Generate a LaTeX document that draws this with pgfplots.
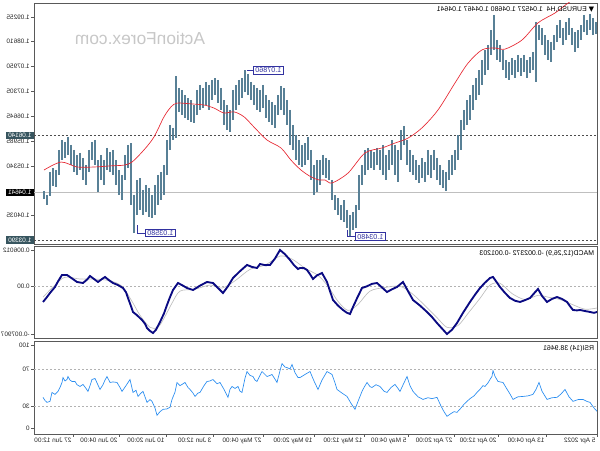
\documentclass[border=0pt]{standalone}
\usepackage{pgfplots}
\pgfplotsset{compat=1.18}
\usepackage{pgfplotstable}
\usepackage{graphicx}
\usepackage{fontspec}
\setmainfont{Liberation Sans}
\newfontfamily\symfont{DejaVu Sans}
\definecolor{barcol}{RGB}{88,128,150}
\definecolor{macol}{RGB}{230,40,50}
\definecolor{macdcol}{RGB}{10,10,130}
\definecolor{sigcol}{RGB}{190,190,190}
\definecolor{rsicol}{RGB}{40,140,240}
\definecolor{hlcol}{RGB}{55,85,95}
\definecolor{anncol}{RGB}{50,50,160}
\newcommand{\rb}[1]{\reflectbox{#1}}
\newcommand{\tf}{\fontsize{4.8}{5.5}\selectfont}
\newcommand{\af}{\fontsize{5.4}{6}\selectfont}

\pgfplotstableread{
x h l
44 1.0468 1.0447
47 1.0457 1.0431
50 1.0518 1.0455
53 1.0528 1.0481
56 1.0523 1.0478
59 1.0576 1.0510
62 1.0602 1.0549
65 1.0597 1.0555
68 1.0610 1.0563
71 1.0589 1.0536
74 1.0576 1.0518
77 1.0563 1.0510
80 1.0568 1.0523
83 1.0555 1.0497
86 1.0536 1.0484
89 1.0576 1.0518
92 1.0597 1.0549
95 1.0602 1.0536
98 1.0549 1.0465
101 1.0563 1.0497
104 1.0549 1.0484
107 1.0581 1.0523
110 1.0570 1.0518
113 1.0576 1.0510
116 1.0549 1.0484
119 1.0523 1.0457
122 1.0510 1.0444
125 1.0563 1.0497
128 1.0589 1.0528
131 1.0594 1.0431
134 1.0457 1.0358
137 1.0497 1.0405
140 1.0502 1.0418
143 1.0470 1.0405
146 1.0484 1.0413
149 1.0476 1.0400
152 1.0457 1.0397
155 1.0484 1.0405
158 1.0510 1.0431
161 1.0518 1.0444
164 1.0536 1.0457
167 1.0602 1.0510
170 1.0642 1.0576
173 1.0634 1.0602
176 1.0770 1.0607
179 1.0739 1.0676
182 1.0734 1.0668
185 1.0720 1.0660
188 1.0712 1.0655
191 1.0707 1.0649
194 1.0694 1.0647
197 1.0734 1.0668
200 1.0747 1.0681
203 1.0739 1.0686
206 1.0755 1.0694
209 1.0747 1.0681
212 1.0760 1.0707
215 1.0765 1.0720
218 1.0760 1.0699
221 1.0739 1.0681
224 1.0707 1.0642
227 1.0694 1.0628
230 1.0681 1.0623
233 1.0734 1.0655
236 1.0747 1.0681
239 1.0760 1.0694
242 1.0765 1.0712
245 1.0786 1.0728
248 1.0776 1.0720
251 1.0755 1.0707
254 1.0747 1.0694
257 1.0739 1.0681
260 1.0734 1.0676
263 1.0747 1.0686
266 1.0720 1.0660
269 1.0707 1.0649
272 1.0702 1.0642
275 1.0694 1.0634
278 1.0720 1.0668
281 1.0744 1.0681
284 1.0739 1.0668
287 1.0707 1.0642
290 1.0681 1.0589
293 1.0642 1.0576
296 1.0615 1.0549
299 1.0602 1.0536
302 1.0589 1.0531
305 1.0594 1.0536
308 1.0610 1.0549
311 1.0576 1.0497
314 1.0536 1.0457
317 1.0549 1.0465
320 1.0549 1.0484
323 1.0563 1.0510
326 1.0555 1.0502
329 1.0549 1.0497
332 1.0497 1.0444
335 1.0457 1.0418
338 1.0449 1.0405
341 1.0431 1.0392
344 1.0444 1.0387
347 1.0418 1.0371
350 1.0405 1.0348
353 1.0413 1.0365
356 1.0431 1.0371
359 1.0510 1.0418
362 1.0536 1.0484
365 1.0576 1.0510
368 1.0581 1.0523
371 1.0576 1.0528
374 1.0570 1.0523
377 1.0581 1.0536
380 1.0576 1.0523
383 1.0589 1.0510
386 1.0563 1.0497
389 1.0576 1.0523
392 1.0602 1.0536
395 1.0589 1.0510
398 1.0576 1.0492
401 1.0628 1.0549
404 1.0639 1.0589
407 1.0602 1.0536
410 1.0576 1.0518
413 1.0563 1.0510
416 1.0549 1.0497
419 1.0536 1.0489
422 1.0555 1.0502
425 1.0544 1.0492
428 1.0576 1.0510
431 1.0563 1.0502
434 1.0576 1.0523
437 1.0555 1.0497
440 1.0536 1.0484
443 1.0523 1.0476
446 1.0518 1.0468
449 1.0549 1.0497
452 1.0563 1.0510
455 1.0576 1.0523
458 1.0615 1.0549
461 1.0655 1.0576
464 1.0681 1.0628
467 1.0707 1.0642
470 1.0720 1.0655
473 1.0747 1.0681
476 1.0765 1.0707
479 1.0786 1.0720
482 1.0812 1.0747
485 1.0839 1.0773
488 1.0852 1.0786
491 1.0891 1.0826
494 1.0931 1.0839
497 1.0865 1.0812
500 1.0852 1.0807
503 1.0839 1.0786
506 1.0812 1.0765
509 1.0807 1.0760
512 1.0818 1.0773
515 1.0812 1.0765
518 1.0826 1.0781
521 1.0818 1.0770
524 1.0826 1.0781
527 1.0812 1.0765
530 1.0820 1.0778
533 1.0834 1.0786
536 1.0912 1.0755
539 1.0904 1.0865
542 1.0897 1.0852
545 1.0878 1.0826
548 1.0865 1.0812
551 1.0860 1.0807
554 1.0878 1.0839
557 1.0904 1.0860
560 1.0918 1.0870
563 1.0897 1.0852
566 1.0912 1.0865
569 1.0923 1.0878
572 1.0897 1.0852
575 1.0886 1.0834
578 1.0891 1.0844
581 1.0904 1.0865
584 1.0931 1.0886
587 1.0918 1.0878
590 1.0934 1.0891
593 1.0923 1.0878
596 1.0912 1.0881
}\bars

\pgfplotstableread{
x ma
44 1.0523
61 1.0544
77 1.0531
94 1.0531
111 1.0534
124 1.0536
132 1.0544
144 1.0576
154 1.0610
164 1.0663
171 1.0689
177 1.0699
191 1.0697
204 1.0694
214 1.0686
224 1.0673
234 1.0676
244 1.0663
254 1.0636
267 1.0602
281 1.0581
291 1.0549
301 1.0523
311 1.0505
319 1.0497
325 1.0497
332 1.0489
348 1.0515
365 1.0568
382 1.0581
395 1.0594
408 1.0607
422 1.0634
438 1.0681
455 1.0752
468 1.0804
482 1.0839
495 1.0844
505 1.0841
522 1.0865
538 1.0910
555 1.0936
568 1.0962
585 1.0991
}\matab

\pgfplotstableread{
x m
43 -0.00260
46 -0.00200
50 -0.00111
55 -0.00012
58 0.00080
62 0.00187
67 0.00187
72 0.00130
77 0.00071
83 0.00054
87 0.00110
90 0.00170
94 0.00120
98 0.00071
102 0.00120
105 0.00154
109 0.00100
113 0.00054
118 0.00020
123 -0.00029
126 -0.00100
128 -0.00194
131 -0.00330
133 -0.00426
137 -0.00480
142 -0.00559
145 -0.00620
147 -0.00691
150 -0.00740
153 -0.00774
156 -0.00720
160 -0.00592
164 -0.00450
167 -0.00310
170 -0.00180
173 -0.00062
178 0.00054
183 0.00010
187 -0.00029
193 -0.00062
200 0.00010
207 0.00071
213 0.00054
218 -0.00030
223 -0.00111
228 0.00000
233 0.00137
240 0.00250
247 0.00353
252 0.00320
257 0.00303
260 0.00369
265 0.00350
270 0.00353
275 0.00460
280 0.00601
285 0.00530
290 0.00436
294 0.00350
298 0.00286
300 0.00303
304 0.00300
307 0.00270
310 0.00200
313 0.00121
317 0.00180
322 0.00220
327 0.00071
330 -0.00080
333 -0.00227
338 -0.00320
343 -0.00393
347 -0.00440
350 -0.00459
353 -0.00343
357 -0.00200
362 -0.00029
367 0.00000
372 0.00040
377 0.00054
382 -0.00020
387 -0.00095
392 -0.00050
397 -0.00012
403 0.00071
408 -0.00080
413 -0.00227
420 -0.00320
427 -0.00426
432 -0.00510
437 -0.00609
442 -0.00700
447 -0.00791
452 -0.00720
457 -0.00609
463 -0.00440
470 -0.00260
475 -0.00140
480 -0.00029
485 0.00060
490 0.00137
493 0.00154
497 0.00060
500 -0.00012
505 -0.00110
510 -0.00194
515 -0.00240
520 -0.00260
525 -0.00230
530 -0.00194
535 -0.00100
538 -0.00045
542 -0.00160
547 -0.00260
552 -0.00210
557 -0.00178
562 -0.00210
567 -0.00260
570 -0.00330
573 -0.00393
577 -0.00400
580 -0.00393
585 -0.00410
590 -0.00426
594 -0.00440
597 -0.00426
}\macdtab

\pgfplotstableread{
x s
43 -0.0018
55 0.0002
65 0.0015
80 0.0012
95 0.0012
110 0.0009
122 0.0000
132 -0.0025
140 -0.0048
150 -0.0068
158 -0.0068
165 -0.0050
172 -0.0028
180 -0.0008
195 -0.0005
210 0.0002
222 -0.0003
235 0.0009
250 0.0028
265 0.0035
280 0.0050
292 0.0045
305 0.0030
318 0.0018
328 0.0000
338 -0.0025
348 -0.0040
358 -0.0030
370 -0.0008
385 -0.0002
400 0.0000
412 -0.0012
425 -0.0032
437 -0.0052
447 -0.0068
458 -0.0065
468 -0.0045
480 -0.0020
490 0.0002
500 0.0005
512 -0.0012
525 -0.0022
538 -0.0015
548 -0.0018
560 -0.0022
572 -0.0030
585 -0.0038
597 -0.0036
}\sigtab

\pgfplotstableread{
x r
43 39.4
45 36
47 34.0
50 35.1
52 44.7
55 42.6
58 45.8
60 50
62 55.4
63 60.7
65 57
67 58.6
68 61.8
70 58
72 56.5
75 56.5
77 53
80 51.1
83 53.3
86 49
88 45.8
90 52
92 58.6
95 59.7
97 55
100 47.9
103 53
105 58
107 61.8
110 55.4
113 56
117 55.4
120 50
122 45.8
126 52
130 58.6
133 44.7
136 47
138 40.4
141 44
143 45.8
145 40
147 34.0
150 37
152 35.1
155 28
157 20.1
160 24
163 26.5
167 27
170 28.7
172 37.2
175 45
177 55.4
180 52
182 53.3
185 55.4
188 50
190 47.9
193 44
195 40.4
198 44
200 44.7
204 52
207 56.5
210 57
213 58.6
217 54
220 55.4
224 48
228 39.4
230 48
232 51.1
235 49
238 51.1
240 46
242 44.7
245 60
247 67.2
250 63
253 61.8
255 58
257 56.5
260 63
262 67.2
265 64
267 61.8
270 63
272 64.0
275 59
277 55.4
280 68
282 75.7
285 72
287 71.4
290 70
292 74.7
295 66
298 60.7
300 60.7
305 64
310 67.2
314 57
318 47.9
322 58
327 67.2
332 64.0
335 55
337 47.9
342 44
347 40.4
351 33
355 26.5
358 35
362 45.8
364 50
367 55.4
370 51
372 50
376 53
380 51.1
384 46
387 44.7
391 50
395 53.3
398 49
400 45.8
404 55
407 61.8
410 52
413 45.8
418 40
423 37.2
428 39
432 38
437 39.4
441 30
444 24
447 19.0
451 22
454 24
457 23.3
461 28
464 32
467 35.1
470 38
474 41
477 44.7
480 48
483 52
485 51.1
488 55
490 58.6
492 62
493 68.2
495 62
498 56.5
503 55.4
506 50
510 43
513 37.2
518 40
523 40.4
528 41
533 42.6
536 48
539 55.4
542 46
547 37.2
552 39
557 39.4
561 43
565 47.9
569 40
573 35.1
578 37
583 37.2
587 35
590 34.0
594 28
597 24.4
}\rsitab

\pgfplotsset{mt4/.style={
  scale only axis, width=422.25pt, xmin=34, xmax=597, anchor=south west,
  axis line style={draw=black!65, line width=0.6pt},
  tick style={draw=black!65, line width=0.4pt},
  tick align=outside, major tick length=2pt,
  ticklabel style={font=\tf, text=black!85},
  yticklabel style={anchor=east, inner sep=1pt},
  ytick pos=left, xtick pos=bottom,
  scaled y ticks=false, clip mode=individual,
}}

\begin{document}
\begin{tikzpicture}
\useasboundingbox (0,0) rectangle (450pt,337.5pt);

% ---------- main price panel ----------
\begin{axis}[mt4, at={(25.5pt,154.5pt)}, height=180.75pt,
  ymin=1.03285, ymax=1.09623, xtick=\empty,
  ytick={1.04035,1.05340,1.05985,1.06645,1.07305,1.07950,1.08610,1.09255},
  yticklabels={\rb{1.04035},\rb{1.05340},\rb{1.05985},\rb{1.06645},\rb{1.07305},\rb{1.07950},\rb{1.08610},\rb{1.09255}}]
\node[font=\fontsize{13}{14}\selectfont, text=black!22] at (axis cs:140,1.0870) {\rb{ActionForex.com}};
\addplot[black!25, line width=1.1pt] coordinates {(34,1.04641) (597,1.04641)};
\addplot[black!70, line width=0.5pt, dash pattern=on 1.5pt off 1.5pt] coordinates {(34,1.06140) (597,1.06140)};
\addplot[black!70, line width=0.5pt, dash pattern=on 1.5pt off 1.5pt] coordinates {(34,1.03390) (597,1.03390)};
\addplot[draw=none, no markers,
  error bars/.cd, y dir=minus, y explicit, error mark=none,
  error bar style={draw=barcol, solid, line width=1.05pt}]
  table[x=x, y=h, y error expr=\thisrow{h}-\thisrow{l}] {\bars};
\addplot[macol, line width=0.5pt, smooth] table[x=x, y=ma] {\matab};
% price labels on the scale
\node[fill=hlcol, text=white, anchor=east, inner xsep=1.8pt, inner ysep=1pt, font=\tf] at (axis cs:34,1.06140) {\rb{1.06140}};
\node[fill=black, text=white, anchor=east, inner xsep=1.8pt, inner ysep=1pt, font=\tf] at (axis cs:34,1.04641) {\rb{1.04641}};
\node[fill=hlcol, text=white, anchor=east, inner xsep=1.8pt, inner ysep=1pt, font=\tf] at (axis cs:34,1.03390) {\rb{1.03390}};
% high / low annotations
\draw[anncol, line width=0.4pt] (axis cs:247,1.0786) -- (axis cs:253,1.0786);
\node[draw=anncol, fill=white, text=anncol, anchor=west, inner xsep=1.5pt, inner ysep=1pt, font=\af] at (axis cs:253,1.0786) {\rb{1.07860}};
\draw[anncol, line width=0.4pt] (axis cs:137,1.0378) -- (axis cs:137,1.0358) -- (axis cs:145,1.0358);
\node[draw=anncol, fill=white, text=anncol, anchor=west, inner xsep=1.5pt, inner ysep=1pt, font=\af] at (axis cs:145,1.0358) {\rb{1.03580}};
\draw[anncol, line width=0.4pt] (axis cs:347,1.0366) -- (axis cs:347,1.0348) -- (axis cs:355,1.0348);
\node[draw=anncol, fill=white, text=anncol, anchor=west, inner xsep=1.5pt, inner ysep=1pt, font=\af] at (axis cs:355,1.0348) {\rb{1.03480}};
\node[anchor=north east, inner sep=0pt, font=\fontsize{5.2}{6}\selectfont] at ([xshift=-2pt,yshift=-2.5pt]rel axis cs:1,1)
  {\rb{{\symfont ▼} EURUSD,H4\ \ 1.04527 1.04680 1.04467 1.04641}};
\end{axis}

% ---------- MACD panel ----------
\begin{axis}[mt4, at={(25.5pt,84pt)}, height=69pt,
  ymin=-0.00857, ymax=0.00667, xtick=\empty,
  ytick={-0.007907,0,0.006012},
  yticklabels={\rb{-0.007907},\rb{0.00},\rb{0.006012}}]
\addplot[black!30, line width=0.4pt, dash pattern=on 1.5pt off 1.5pt] coordinates {(34,0) (597,0)};
\addplot[sigcol, line width=0.5pt, smooth] table[x=x, y=s] {\sigtab};
\addplot[macdcol, line width=1.4pt] table[x=x, y=m] {\macdtab};
\node[anchor=north east, inner sep=0pt, font=\fontsize{5.2}{6}\selectfont] at ([xshift=-2pt,yshift=-3pt]rel axis cs:1,1)
  {\rb{MACD(12,26,9) -0.002372 -0.001203}};
\end{axis}

% ---------- RSI panel ----------
\begin{axis}[mt4, at={(25.5pt,12pt)}, height=69.75pt,
  ymin=0, ymax=100,
  ytick={30,70}, yticklabels={\rb{30},\rb{70}},
  extra y ticks={6,95}, extra y tick labels={\rb{0},\rb{100}},
  xtick={73,119,166,213,263,314,364,408,454,498,546,597},
  xticklabels={\rb{27 Jun 12:00},\rb{20 Jun 04:00},\rb{10 Jun 20:00},\rb{3 Jun 12:00},\rb{27 May 04:00},\rb{19 May 20:00},\rb{12 May 12:00},\rb{5 May 04:00},\rb{27 Apr 20:00},\rb{20 Apr 12:00},\rb{13 Apr 04:00},\rb{5 Apr 2022}},
  xticklabel style={anchor=north east, inner sep=1pt}]
\addplot[black!30, line width=0.4pt, dash pattern=on 1.5pt off 1.5pt] coordinates {(34,30) (597,30)};
\addplot[black!30, line width=0.4pt, dash pattern=on 1.5pt off 1.5pt] coordinates {(34,70) (597,70)};
\addplot[rsicol, line width=0.5pt] table[x=x, y=r] {\rsitab};
\node[anchor=north east, inner sep=0pt, font=\fontsize{5.2}{6}\selectfont] at ([xshift=-2pt,yshift=-3pt]rel axis cs:1,1)
  {\rb{RSI(14) 38.9461}};
\end{axis}
\end{tikzpicture}
\end{document}
